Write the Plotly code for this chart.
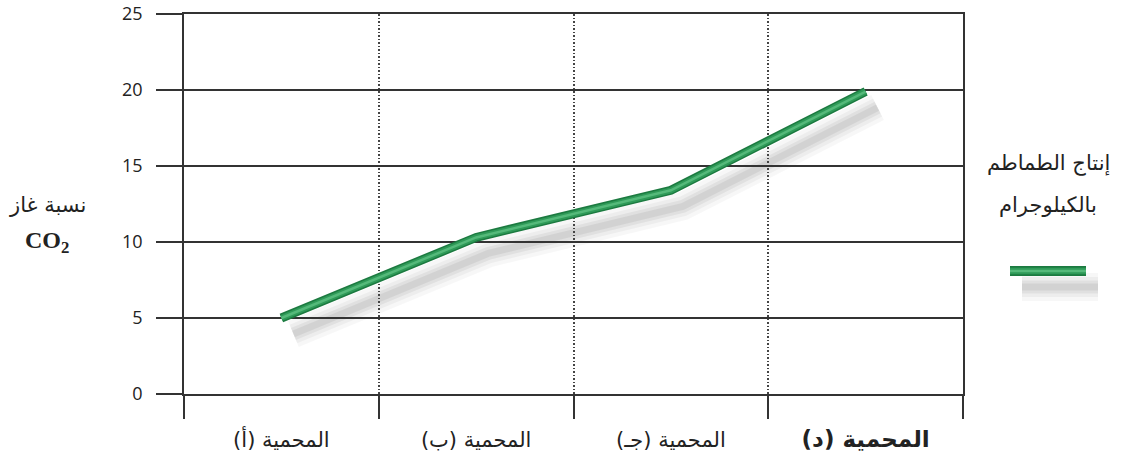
import plotly.graph_objects as go

categories = ["المحمية (أ)", "المحمية (ب)", "المحمية (جـ)", "المحمية (د)"]
tick_text = ["المحمية (أ)", "المحمية (ب)", "المحمية (جـ)",
             "<span style='font-size:23px'><b>المحمية (د)</b></span>"]
co2_values = [5.0, 10.3, 13.4, 19.9]
y_ticks = [0, 5, 10, 15, 20, 25]
series_name = "إنتاج الطماطم بالكيلوجرام"
legend_lines = ["إنتاج الطماطم", "بالكيلوجرام"]
y_title_ar = "نسبة غاز"

OFF = 0  # page body margin removed by post_script
W, H = 1127 - OFF, 458 - OFF
L, T = 184 - OFF, 14 - OFF
PW, PH = 779, 380
DX, DY = 12, 16
paper_w = PW + DX
paper_h = PH + DY
R = W - L - paper_w
B = H - T - paper_h


def px(x):
    return (x - OFF - L) / paper_w


def py(y):
    return (T + paper_h - (y - OFF)) / paper_h


fig = go.Figure()

# shadow on the first (lower-layer) subplot, shifted a few pixels right/down
for w, a in [(28, 0.03), (20, 0.04), (13, 0.05), (7, 0.06)]:
    fig.add_trace(go.Scatter(x=categories, y=co2_values, mode="lines",
                             line=dict(color=f"rgba(0,0,0,{a})", width=w),
                             xaxis="x", yaxis="y", hoverinfo="skip", showlegend=False))

# main line on the upper-layer subplot
for col, w in [("#1c7a40", 9), ("#2f9a58", 6), ("#55b97a", 2.5)]:
    fig.add_trace(go.Scatter(x=categories, y=co2_values, mode="lines", name=series_name,
                             line=dict(color=col, width=w), showlegend=False,
                             xaxis="x2", yaxis="y2"))

ax_color = "#333333"
fig.update_layout(
    width=W, height=H,
    margin=dict(l=L, r=R, t=T, b=B, autoexpand=False),
    paper_bgcolor="white", plot_bgcolor="rgba(0,0,0,0)",
    xaxis=dict(type="category", categoryorder="array", categoryarray=categories,
               domain=[DX / paper_w, 1], range=[-0.5, 3.5], visible=False, anchor="y",
               automargin=False),
    yaxis=dict(domain=[0, PH / paper_h], range=[0, 25], visible=False, anchor="x",
               automargin=False),
    xaxis2=dict(type="category", categoryorder="array", categoryarray=categories,
                domain=[0, PW / paper_w], range=[-0.5, 3.5],
                tickmode="array", tickvals=categories, ticktext=tick_text,
                tickson="boundaries", ticks="outside", ticklen=23, tickwidth=1.8,
                tickcolor=ax_color, ticklabelstandoff=26,
                showgrid=True, gridcolor="#444444", griddash="1.5px,2px", gridwidth=1.5,
                showline=True, mirror=True, linecolor=ax_color, linewidth=1.8,
                zeroline=False, automargin=False,
                tickfont=dict(family="DejaVu Sans", size=21, color="#222"),
                anchor="y2"),
    yaxis2=dict(domain=[DY / paper_h, 1], range=[0, 25],
                tickmode="array", tickvals=y_ticks, ticklabeloverflow="allow",
                ticks="outside", ticklen=26, tickwidth=1.8, tickcolor=ax_color,
                showgrid=True, gridcolor=ax_color, gridwidth=1.8,
                showline=True, linecolor=ax_color, linewidth=1.8, mirror=True,
                zeroline=False, ticklabelstandoff=10, automargin=False,
                tickfont=dict(family="Open Sans", size=18, color="#222"),
                anchor="x2"),
)

# y-axis title
fig.add_annotation(xref="paper", yref="paper", x=px(47), y=py(205), xanchor="center",
                   text=y_title_ar, showarrow=False,
                   font=dict(family="DejaVu Sans", size=21, color="#222"))
fig.add_annotation(xref="paper", yref="paper", x=px(47), y=py(242), xanchor="center",
                   text="<b>CO<sub>2</sub></b>", showarrow=False,
                   font=dict(family="Liberation Serif", size=24, color="#222"))

# legend
for txt, yy in zip(legend_lines, [163, 205]):
    fig.add_annotation(xref="paper", yref="paper", x=px(1048), y=py(yy), xanchor="center",
                       text=txt, showarrow=False,
                       font=dict(family="DejaVu Sans", size=21, color="#222"))
lx0, lx1, ly = px(1010), px(1086), py(271)
sdx, sdy = 12 / paper_w, 16 / paper_h
for w, a in [(28, 0.03), (20, 0.04), (13, 0.05), (7, 0.06)]:
    fig.add_shape(type="line", xref="paper", yref="paper", x0=lx0 + sdx, x1=lx1 + sdx,
                  y0=ly - sdy, y1=ly - sdy, line=dict(color=f"rgba(0,0,0,{a})", width=w))
for col, w in [("#1c7a40", 10), ("#2f9a58", 6.5), ("#55b97a", 2.5)]:
    fig.add_shape(type="line", xref="paper", yref="paper", x0=lx0, x1=lx1, y0=ly, y1=ly,
                  line=dict(color=col, width=w))

fig.write_html("out.html", config={"displayModeBar": False},
               post_script="document.body.style.margin='0px';")
